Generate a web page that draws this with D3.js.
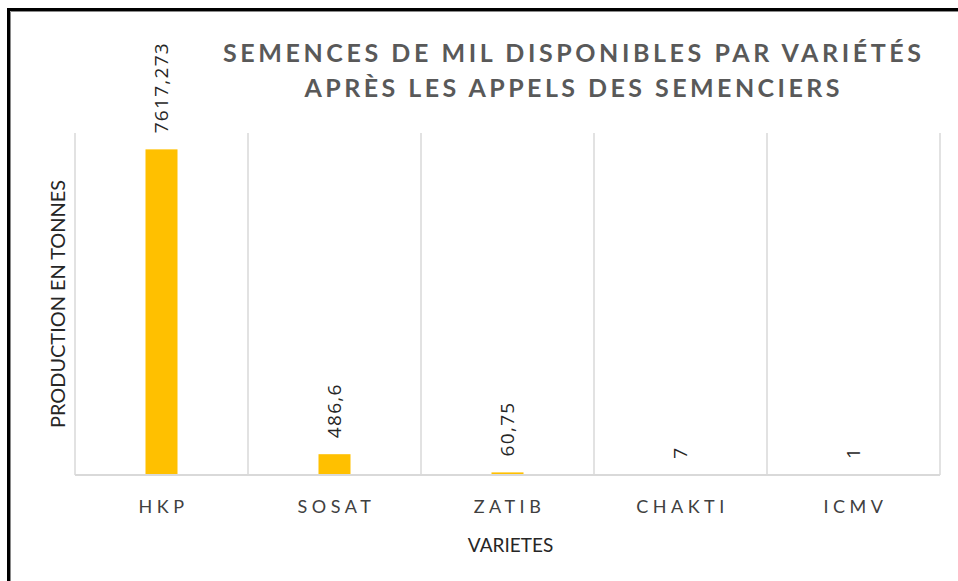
<!DOCTYPE html>
<html>
<head>
<meta charset="utf-8">
<script src="https://cdn.jsdelivr.net/npm/d3@7"></script>
<style>
  body { margin: 0; background: #fff; }
  svg { display: block; }
</style>
</head>
<body>
<div id="chart-area"></div>
<script>
// data
var varietes = ["HKP", "SOSAT", "ZATIB", "CHAKTI", "ICMV"];
var production = [7617.273, 486.6, 60.75, 7, 1];
var labels = ["7617,273", "486,6", "60,75", "7", "1"];
var titleLines = ["SEMENCES DE MIL DISPONIBLES PAR VARIÉTÉS", "APRÈS LES APPELS DES SEMENCIERS"];

var W = 958, H = 581;
var margin = {left: 75, right: 18, top: 133, bottom: 106};
var width = W - margin.left - margin.right;
var height = H - margin.top - margin.bottom;

var svg = d3.select("#chart-area")
    .append("svg")
        .attr("width", W)
        .attr("height", H);

// frame round the picture
svg.append("rect")
    .attr("x", 8.5).attr("y", 9.5)
    .attr("width", 1200).attr("height", 1200)
    .attr("fill", "none")
    .attr("stroke", "#000")
    .attr("stroke-width", 3);
svg.append("path")
    .attr("d", "M10.5," + H + "V11.5H" + W)
    .attr("fill", "none")
    .attr("stroke", "#8a8a8a")
    .attr("stroke-width", 1);

var g = svg.append("g")
    .attr("transform", "translate(" + margin.left + "," + margin.top + ")");

var x = d3.scaleBand()
    .domain(varietes)
    .range([0, width])
    .padding(0);

var y = d3.scaleLinear()
    .domain([0, 8000])
    .range([height, 0]);

var barW = x.bandwidth() * 0.185;

// vertical gridlines between categories
var bounds = varietes.map(function(d){ return x(d); }).concat([width]);
g.selectAll(".grid")
    .data(bounds)
    .enter().append("line")
        .attr("class", "grid")
        .attr("x1", function(d){ return d; })
        .attr("x2", function(d){ return d; })
        .attr("y1", 0)
        .attr("y2", height)
        .attr("stroke", "#d9d9d9")
        .attr("stroke-width", 1.5);

// bars
g.selectAll(".bar")
    .data(production)
    .enter().append("rect")
        .attr("class", "bar")
        .attr("x", function(d, i){ return x(varietes[i]) + x.bandwidth() / 2 - barW / 2; })
        .attr("y", function(d){ return y(d); })
        .attr("width", barW)
        .attr("height", function(d){ return height - y(d); })
        .attr("fill", "#ffc000");

// baseline
g.append("line")
    .attr("x1", 0).attr("x2", width)
    .attr("y1", height).attr("y2", height)
    .attr("stroke", "#d9d9d9")
    .attr("stroke-width", 2);

// data labels, rotated
g.selectAll(".lbl")
    .data(production)
    .enter().append("text")
        .attr("class", "lbl")
        .attr("transform", function(d, i){
            var cx = x(varietes[i]) + x.bandwidth() / 2;
            return "translate(" + cx + "," + (y(d) - 16) + ") rotate(-90)";
        })
        .attr("dy", "0.35em")
        .attr("text-anchor", "start")
        .attr("font-family", "Open Sans, DejaVu Sans, sans-serif")
        .attr("font-size", "19px")
        .attr("letter-spacing", "1.3px")
        .attr("fill", "#262626")
        .text(function(d, i){ return labels[i]; });

// category labels
g.selectAll(".cat")
    .data(varietes)
    .enter().append("text")
        .attr("class", "cat")
        .attr("x", function(d){ return x(d) + x.bandwidth() / 2 + 2; })
        .attr("y", height + 38)
        .attr("text-anchor", "middle")
        .attr("font-family", "Lato, sans-serif")
        .attr("font-size", "18px")
        .attr("letter-spacing", "4.5px")
        .attr("fill", "#404040")
        .text(function(d){ return d; });

// axis titles
g.append("text")
    .attr("x", width / 2 + 3)
    .attr("y", height + 77)
    .attr("text-anchor", "middle")
    .attr("font-family", "Lato, sans-serif")
    .attr("font-size", "19px")
    .attr("fill", "#262626")
    .text("VARIETES");

g.append("text")
    .attr("transform", "translate(-10," + (height / 2) + ") rotate(-90)")
    .attr("text-anchor", "middle")
    .attr("font-family", "Lato, sans-serif")
    .attr("font-size", "19px")
    .attr("textLength", 248)
    .attr("lengthAdjust", "spacingAndGlyphs")
    .attr("fill", "#262626")
    .text("PRODUCTION EN TONNES");

// title
var titleLen = [698, 535];
svg.selectAll(".title")
    .data(titleLines)
    .enter().append("text")
        .attr("class", "title")
        .attr("x", 572)
        .attr("y", function(d, i){ return 62 + i * 35; })
        .attr("text-anchor", "middle")
        .attr("font-family", "Lato, sans-serif")
        .attr("font-weight", "bold")
        .attr("font-size", "25px")
        .attr("textLength", function(d, i){ return titleLen[i]; })
        .attr("lengthAdjust", "spacing")
        .attr("fill", "#595959")
        .text(function(d){ return d; });
</script>
</body>
</html>
